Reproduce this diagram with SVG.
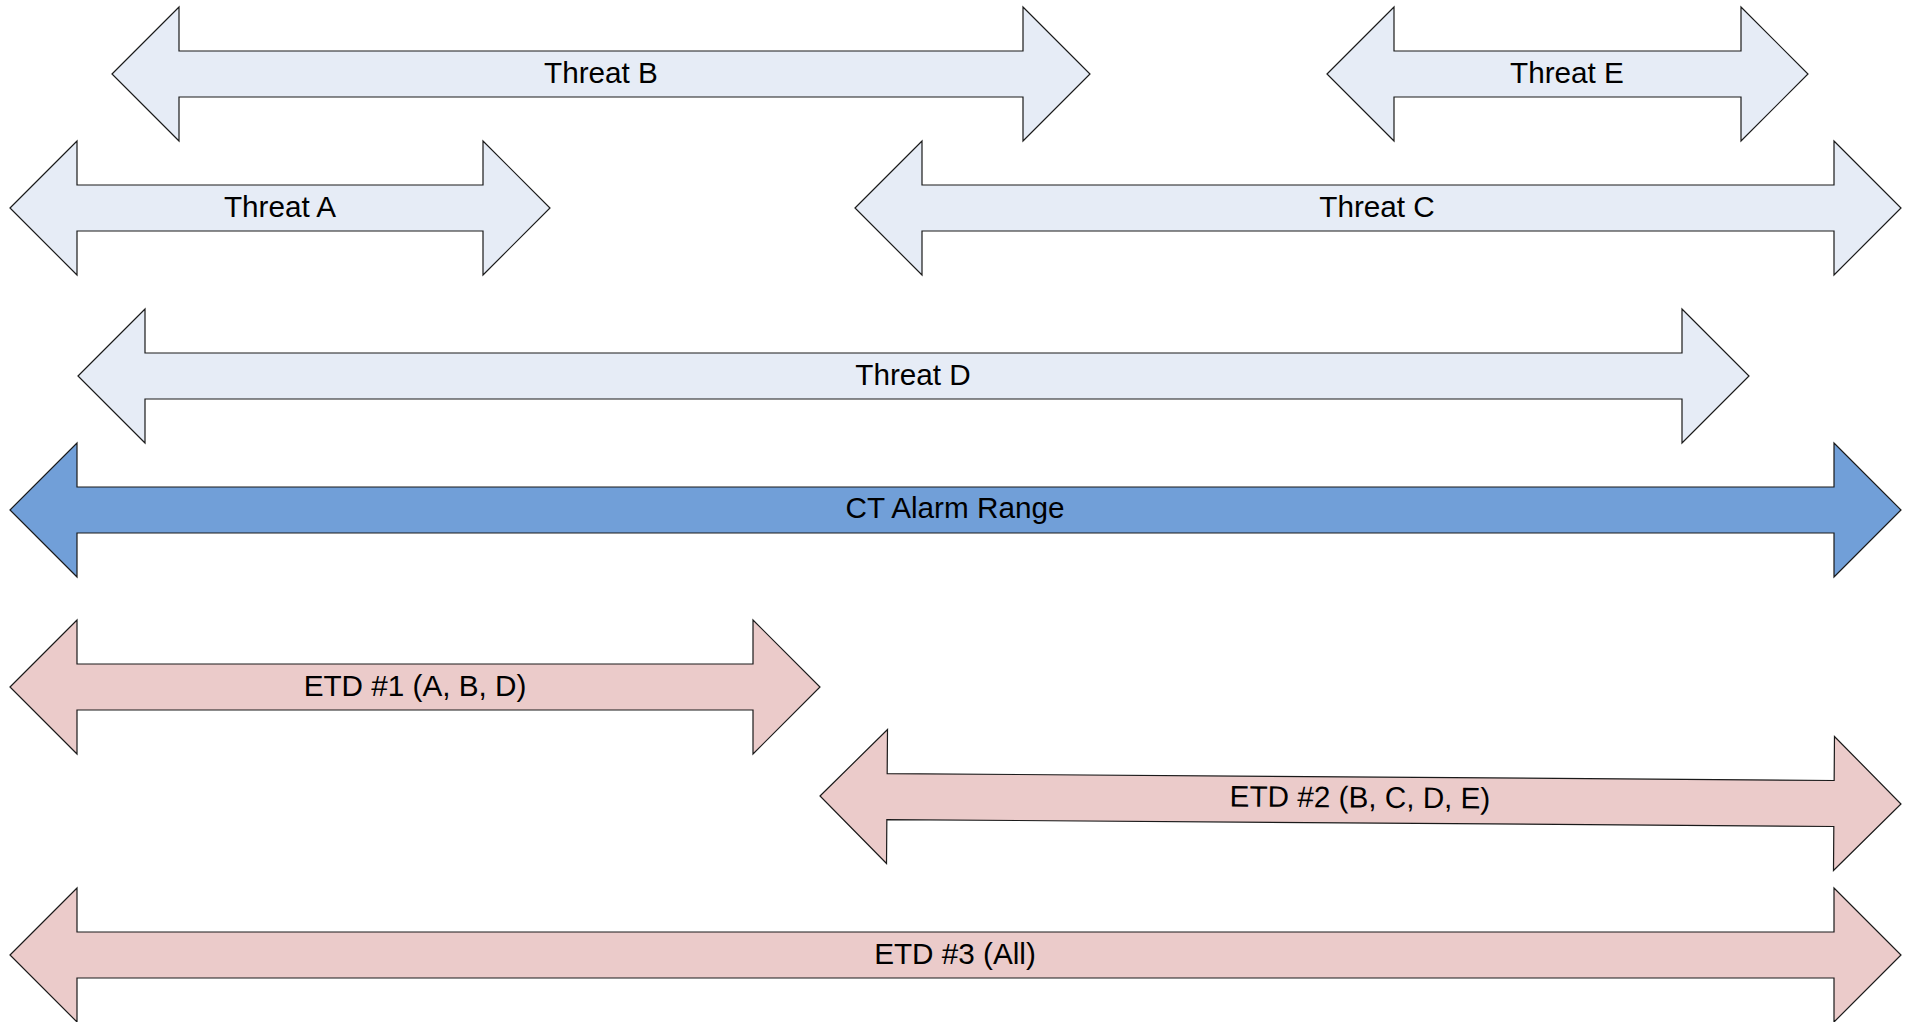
<svg xmlns="http://www.w3.org/2000/svg" width="1908" height="1022" viewBox="0 0 1908 1022">
  <style>
    .arrow { stroke: #1a1a1a; stroke-width: 1.2; stroke-linejoin: miter; }
    .threat { fill: #e6ecf6; }
    .alarm { fill: #719fd8; }
    .etd { fill: #ebcbca; }
    .label { font-family: "Liberation Sans", Arial, sans-serif; font-size: 29.7px; fill: #000; text-anchor: middle; }
  </style>
  <rect width="1908" height="1022" fill="#ffffff"/>

  <!-- double-headed arrows: tip, neck, head half-height 67, shaft half-height 23 -->
  <g id="threat-b">
    <polygon class="arrow threat" points="112,74 179,7 179,51 1023,51 1023,7 1090,74 1023,141 1023,97 179,97 179,141"/>
    <text class="label" x="601" y="83">Threat B</text>
  </g>
  <g id="threat-e">
    <polygon class="arrow threat" points="1327,74 1394,7 1394,51 1741,51 1741,7 1808,74 1741,141 1741,97 1394,97 1394,141"/>
    <text class="label" x="1567" y="83">Threat E</text>
  </g>
  <g id="threat-a">
    <polygon class="arrow threat" points="10,208 77,141 77,185 483,185 483,141 550,208 483,275 483,231 77,231 77,275"/>
    <text class="label" x="280" y="217">Threat A</text>
  </g>
  <g id="threat-c">
    <polygon class="arrow threat" points="855,208 922,141 922,185 1834,185 1834,141 1901,208 1834,275 1834,231 922,231 922,275"/>
    <text class="label" x="1377" y="217">Threat C</text>
  </g>
  <g id="threat-d">
    <polygon class="arrow threat" points="78,376 145,309 145,353 1682,353 1682,309 1749,376 1682,443 1682,399 145,399 145,443"/>
    <text class="label" x="913" y="385">Threat D</text>
  </g>
  <g id="ct-alarm-range">
    <polygon class="arrow alarm" points="10,510 77,443 77,487 1834,487 1834,443 1901,510 1834,577 1834,533 77,533 77,577"/>
    <text class="label" x="955" y="518">CT Alarm Range</text>
  </g>
  <g id="etd-1">
    <polygon class="arrow etd" points="10,687 77,620 77,664 753,664 753,620 820,687 753,754 753,710 77,710 77,754"/>
    <text class="label" x="415" y="695.5">ETD #1 (A, B, D)</text>
  </g>
  <g id="etd-2" transform="rotate(0.42 1360 800)">
    <polygon class="arrow etd" points="820,800 887,733 887,777 1834,777 1834,733 1901,800 1834,867 1834,823 887,823 887,867"/>
    <text class="label" x="1360" y="807.5">ETD #2 (B, C, D, E)</text>
  </g>
  <g id="etd-3">
    <polygon class="arrow etd" points="10,955 77,888 77,932 1834,932 1834,888 1901,955 1834,1022 1834,978 77,978 77,1022"/>
    <text class="label" x="955" y="963.5">ETD #3 (All)</text>
  </g>
</svg>
